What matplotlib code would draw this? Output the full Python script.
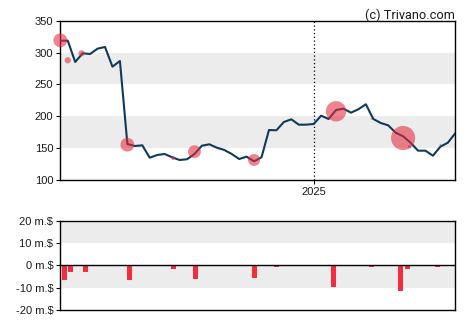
import numpy as np
import pandas as pd
import matplotlib
matplotlib.use("Agg")
import matplotlib.pyplot as plt
import matplotlib.dates as mdates

plt.rcParams['font.family'] = ['Liberation Sans', 'DejaVu Sans']

# ---- data ----
start = pd.Timestamp("2024-05-08")
prices = [318.6, 318.6, 285.2, 298.8, 297.7, 306.1, 308.7, 277.8, 286.7, 156.5,
          153.3, 154.4, 135.0, 139.2, 140.8, 135.6, 131.4, 132.5, 140.8, 153.8,
          156.0, 150.7, 147.1, 140.8, 132.9, 136.6, 129.3, 135.6, 178.4, 178.0,
          191.0, 195.2, 186.8, 186.8, 187.9, 200.9, 195.7, 209.8, 211.9, 205.6,
          211.0, 218.8, 195.7, 189.4, 185.8, 174.2, 168.6, 158.5, 146.0, 146.0,
          138.1, 152.3, 158.5, 173.3]
price_dates = pd.date_range(start, periods=len(prices), freq="7D")

# insider transactions (bubbles): day offset, price, value (m.$)
bubble_days = [0, 7, 20, 63, 106, 126, 182, 203, 259, 292, 322, 328, 357]
bubble_price = [319.2, 287.8, 298.8, 155.4, 134.5, 144.4, 131.4, 178.0, 207.8, 196.0, 165.9, 152.2, 155.4]
bubble_value = [-6.6, -3.0, -3.0, -6.6, -1.8, -6.1, -5.7, -0.7, -9.7, -0.7, -11.5, -1.6, -0.7]

# weekly aggregated bars: day offset (centre), value (m.$)
bar_days = [4, 10, 24, 65, 106, 127, 182, 203, 257, 292, 319.5, 326, 354]
bar_value = [-6.6, -3.0, -3.0, -6.6, -1.8, -6.1, -5.7, -0.7, -9.7, -0.7, -11.5, -1.6, -0.7]

price_ticks = [100, 150, 200, 250, 300, 350]
vol_ticks = [-20, -10, 0, 10, 20]
vol_labels = ["-20 m.$", "-10 m.$", "0 m.$", "10 m.$", "20 m.$"]

# ---- styling ----
line_col = "#0f3a5a"
red = "#f42c40"
bubble_col = "#e62c3c"
band = "#ececec"
txt = "#1a1a1a"

fig = plt.figure(figsize=(4.7, 3.25), dpi=100)
ax = fig.add_axes([0.1283, 0.4462, 0.8404, 0.4902])
ax2 = fig.add_axes([0.1283, 0.04615, 0.8404, 0.2748])

x0 = price_dates[0]
x1 = price_dates[-1]

# top chart
ax.set_xlim(x0, x1)
ax.set_ylim(100, 350)
ax.axhspan(150, 200, color=band, lw=0, zorder=0)
ax.axhspan(250, 300, color=band, lw=0, zorder=0)
ax.plot(price_dates, prices, color=line_col, lw=1.5, zorder=3)
bdates = [start + pd.Timedelta(days=d) for d in bubble_days]
r_px = np.abs(np.array(bubble_value)) * 1.05
s = (2 * r_px * 72 / 100) ** 2
ax.scatter(bdates, bubble_price, s=s, color=bubble_col, alpha=0.58, lw=0,
           zorder=4, clip_on=False)
ax.axvline(pd.Timestamp("2025-01-01"), color="black", lw=0.9, ls=(0, (1, 2)), zorder=2)
ax.set_yticks(price_ticks)
ax.set_xticks([pd.Timestamp("2025-01-01")])
ax.xaxis.set_major_formatter(mdates.DateFormatter("%Y"))

# bottom chart
ax2.set_xlim(x0, x1)
ax2.set_ylim(-20, 20)
ax2.axhspan(10, 20, color=band, lw=0, zorder=0)
ax2.axhspan(-10, 0, color=band, lw=0, zorder=0)
ax2.axhline(0, color="black", lw=1.0, zorder=3)
bardates = [start + pd.Timedelta(days=d) for d in bar_days]
ax2.bar(bardates, bar_value, width=4.7, color=red, zorder=2)
ax2.set_yticks(vol_ticks)
ax2.set_yticklabels(vol_labels)
ax2.set_xticks([])

for a in (ax, ax2):
    for sp in a.spines.values():
        sp.set_linewidth(1.0)
        sp.set_color("black")
    a.tick_params(axis="both", direction="out", length=3, width=0.8,
                  labelsize=8, colors="black", labelcolor=txt, pad=2)

fig.text(0.967, 0.975, "(c) Trivano.com", ha="right", va="top", fontsize=9.2,
         color=txt, family=["Roboto", "DejaVu Sans"])

fig.savefig("out.png", dpi=100)
